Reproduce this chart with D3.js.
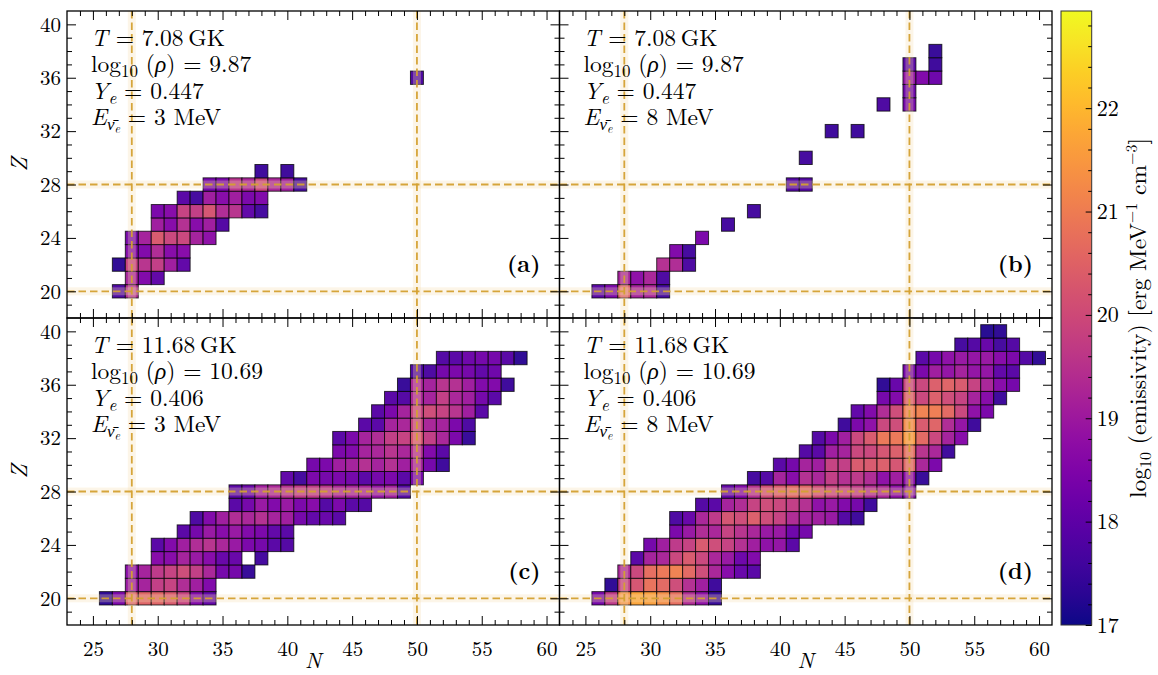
<!DOCTYPE html>
<html>
<head>
<meta charset="utf-8">
<script src="https://cdn.jsdelivr.net/npm/d3@7"></script>
<style>
  body { margin: 0; background: #fff; }
</style>
</head>
<body>
<svg id="chart" width="1158" height="675"></svg>
<script>
// each row: [Z, first N, log10 emissivity for N, N+1, ...]  (null = no cell)
const rowsA = [
  [20, 27, [17.7, 19.3]],
  [21, 28, [19.1, 18.5, 18.0]],
  [22, 27, [17.3, 19.8, 19.5, 19.7, 19.0, 18.0]],
  [23, 28, [18.5, 18.5, 19.3, 18.6, 18.6]],
  [24, 28, [18.3, 19.1, 20.3, 19.9, 19.9, 19.1, 18.7]],
  [25, 30, [19.0, 18.6, 19.4, 18.6, 19.0, 17.8]],
  [26, 30, [18.4, 18.6, 19.8, 19.7, 20.2, 19.3, 19.5, 18.0, 17.6]],
  [27, 32, [17.9, 17.6, 19.0, 18.6, 19.0, 18.4, 18.5]],
  [28, 34, [18.3, 18.4, 19.5, 19.2, 19.9, 19.2, 19.0, 17.6]],
  [29, 38, [17.5, null, 17.5]],
  [36, 50, [17.7]]
];
const rowsB = [
  [20, 26, [17.9, 18.4, 20.4, 19.1, 19.2, 17.6]],
  [21, 28, [19.1, 18.7, 19.2, 17.7]],
  [22, 31, [19.4, 19.3, 17.7]],
  [23, 32, [18.5, 17.6]],
  [24, 34, [18.4]],
  [25, 36, [17.6]],
  [26, 38, [17.6]],
  [28, 41, [17.8, 17.8]],
  [30, 42, [17.6]],
  [32, 44, [17.5, null, 17.5]],
  [34, 48, [17.7, null, 18.3]],
  [35, 50, [18.2]],
  [36, 50, [18.8, 18.5, 18.2]],
  [37, 50, [17.9, null, 17.5]],
  [38, 52, [17.4]]
];
const rowsC = [
  [20, 26, [17.3, 18.4, 20.4, 20.5, 20.5, 20.3, 19.8, 18.5, 18.0]],
  [21, 28, [18.9, 19.1, 19.7, 19.8, 19.3, 19.0, 18.5]],
  [22, 28, [18.6, 19.1, 19.6, 19.8, 20.0, 19.7, 19.2, 18.3, 18.3, 17.4]],
  [23, 30, [18.6, 18.6, 19.1, 18.9, 18.6, 18.1, 18.1, null, 17.6]],
  [24, 30, [17.9, 18.5, 19.0, 19.3, 19.5, 19.2, 18.9, 18.4, 18.3, 17.9, 17.8]],
  [25, 32, [17.9, 18.3, 18.9, 18.6, 18.9, 18.5, 18.4, 18.0, 17.9]],
  [26, 33, [17.7, 18.5, 19.0, 19.3, 19.2, 19.4, 19.1, 19.0, 18.3, 18.0, 18.1, 17.9]],
  [27, 36, [17.9, 18.3, 18.9, 18.5, 18.9, 18.4, 18.6, 17.8, 18.4, 17.9, 17.8]],
  [28, 36, [17.9, 18.1, 19.0, 19.2, 19.4, 19.6, 19.6, 19.5, 19.2, 19.1, 19.1, 18.8, 19.0, 17.8]],
  [29, 40, [18.0, 17.6, 18.4, 18.3, 18.4, 18.3, 17.9, 18.3, 18.4, 17.9, 18.3]],
  [30, 42, [18.3, 18.4, 19.0, 19.1, 19.4, 19.1, 19.4, 19.0, 19.1, 18.3, 17.5]],
  [31, 44, [18.4, 18.5, 19.1, 19.2, 19.5, 19.2, 19.3, 18.5, 17.9]],
  [32, 44, [17.9, 18.4, 19.1, 19.3, 19.7, 19.8, 20.2, 19.7, 19.2, 18.4, 17.4]],
  [33, 46, [17.9, 17.9, 19.1, 19.2, 19.8, 19.2, 19.1, 18.4, 17.7]],
  [34, 47, [17.9, 18.4, 19.1, 19.8, 20.0, 19.8, 19.5, 19.0, 17.9]],
  [35, 48, [17.9, 17.8, 19.2, 19.1, 19.7, 19.2, 19.0, 18.3, 17.9]],
  [36, 49, [17.4, 19.2, 19.1, 19.5, 19.4, 19.0, 18.5, 18.5, 17.5]],
  [37, 50, [17.7, 17.7, 18.3, 18.4, 18.3, 18.0, 18.2]],
  [38, 52, [17.8, 17.9, 18.2, 18.3, 18.3, 17.9, 17.3]]
];
const rowsD = [
  [20, 26, [18.3, 19.6, 21.4, 21.7, 21.6, 21.3, 20.7, 19.3, 18.7, 17.4]],
  [21, 27, [17.3, 19.7, 20.2, 20.8, 20.6, 20.0, 19.4, 19.0, 17.5]],
  [22, 28, [19.2, 19.9, 20.7, 20.9, 21.1, 20.6, 20.0, 19.2, 18.6, 18.1, 17.9]],
  [23, 29, [17.9, 19.1, 19.2, 19.9, 20.3, 19.9, 19.2, 18.9, 18.2, 18.5]],
  [24, 30, [18.3, 19.0, 19.6, 19.8, 20.3, 20.0, 19.8, 19.4, 19.0, 18.7, 18.8, 17.9]],
  [25, 32, [18.4, 18.9, 19.3, 19.2, 19.8, 19.5, 19.2, 18.9, 18.9, 18.2, 18.3]],
  [26, 32, [17.7, 18.1, 19.2, 19.6, 20.2, 20.0, 20.4, 20.0, 19.8, 19.3, 19.1, 19.0, 18.9, 17.8, 17.5]],
  [27, 34, [17.8, 17.9, 19.1, 19.3, 19.8, 20.0, 19.9, 19.7, 19.4, 18.7, 18.9, 18.5, 18.3, 17.5]],
  [28, 36, [18.0, 18.5, 19.4, 20.0, 20.3, 20.5, 20.5, 20.0, 19.8, 19.7, 19.6, 19.3, 19.2, 18.7, 18.5]],
  [29, 38, [17.6, 17.8, 19.1, 18.6, 19.4, 19.2, 19.7, 19.4, 19.6, 19.3, 18.7, 19.0, 18.6, 17.4]],
  [30, 40, [17.9, 18.3, 19.1, 19.0, 19.8, 19.7, 20.3, 20.3, 20.4, 20.2, 20.5, 19.2, 18.4]],
  [31, 42, [17.8, 17.9, 19.0, 19.1, 19.9, 19.9, 20.2, 20.4, 20.6, 19.5, 19.2, 17.5]],
  [32, 43, [17.8, 18.4, 19.0, 19.9, 20.3, 20.9, 20.9, 21.5, 20.6, 19.9, 19.1, 18.6]],
  [33, 45, [17.5, 18.4, 18.7, 19.9, 20.0, 21.2, 20.3, 20.5, 19.3, 18.8, 17.5]],
  [34, 46, [18.0, 18.5, 19.3, 20.0, 21.0, 21.1, 21.0, 20.6, 19.9, 18.7, 18.4]],
  [35, 48, [18.3, 18.5, 20.3, 19.9, 20.4, 20.0, 19.8, 19.1, 18.6, 17.5]],
  [36, 48, [17.3, 18.1, 19.8, 19.9, 20.4, 20.5, 20.3, 19.8, 19.2, 18.6, 18.3]],
  [37, 50, [18.3, 18.4, 19.0, 18.8, 19.1, 18.8, 18.8, 18.0, 17.9]],
  [38, 51, [17.9, 18.3, 18.7, 18.9, 18.8, 18.9, 18.6, 18.4, 17.8, 17.3]],
  [39, 54, [17.6, 17.8, 18.1, 17.6, 17.8]],
  [40, 56, [17.2, 17.3]]
];

const temps = ["7.08", "7.08", "11.68", "11.68"];
const rhos = ["9.87", "9.87", "10.69", "10.69"];
const yes = ["0.447", "0.447", "0.406", "0.406"];
const energies = ["3", "8", "3", "8"];
const tags = ["(a)", "(b)", "(c)", "(d)"];
const magicN = [28, 50];
const magicZ = [20, 28];
const colorTicks = [17, 18, 19, 20, 21, 22];
const cmin = 17, cmax = 22.94;

const serif = "'Latin Modern Roman', 'Liberation Serif', 'Times New Roman'";
const svg = d3.select("#chart").style("font-family", serif);
const padL = 67, padT = 11, W = 492.5, H = 307;
const color = d3.scaleSequential(d3.interpolatePlasma).domain([cmin, cmax]);
const gold = "#d4a030";

function cells(rows) {
  return rows.flatMap(([z, n0, vals]) =>
    vals.map((v, i) => ({N: n0 + i, Z: z, v})).filter(d => d.v != null));
}

function axis(g, gen, tf) {
  g.append("g").attr("transform", tf).call(gen)
    .attr("font-family", null).attr("font-size", 21)
    .style("font-family", serif)
    .call(s => s.select(".domain").remove())
    .call(s => s.selectAll("line").attr("stroke", "#000").attr("stroke-width", 1))
    .call(s => s.selectAll("text").attr("fill", "#000"));
}

[rowsA, rowsB, rowsC, rowsD].forEach((rows, k) => {
  const col = k % 2, row = Math.floor(k / 2);
  const x = d3.scaleLinear().domain([23, 61]).range([0, W]);
  const y = d3.scaleLinear().domain([18, 41]).range([H, 0]);
  const g = svg.append("g").attr("transform", `translate(${padL + col * W},${padT + row * H})`);

  g.append("clipPath").attr("id", "clip" + k)
    .append("rect").attr("width", W).attr("height", H);
  const plot = g.append("g").attr("clip-path", `url(#clip${k})`);

  plot.append("g").selectAll("rect")
    .data(cells(rows))
    .join("rect")
      .attr("x", d => x(d.N - 0.5))
      .attr("y", d => y(d.Z + 0.5))
      .attr("width", x(1) - x(0))
      .attr("height", y(0) - y(1))
      .attr("fill", d => color(d.v))
      .attr("fill-opacity", 0.97)
      .attr("stroke", "#000")
      .attr("stroke-opacity", 0.75)
      .attr("stroke-width", 1);

  // magic number guides: pale band plus dashed line
  const bands = plot.append("g").attr("fill", "#f5deb3").attr("fill-opacity", 0.3);
  bands.selectAll(".bn").data(magicN).join("rect")
    .attr("x", d => x(d) - 4).attr("y", 0).attr("width", 8).attr("height", H);
  bands.selectAll(".bz").data(magicZ).join("rect")
    .attr("x", 0).attr("y", d => y(d) - 4).attr("width", W).attr("height", 8);
  const dash = plot.append("g").attr("stroke", gold).attr("stroke-width", 1.8)
    .attr("stroke-dasharray", "7.5,4").attr("stroke-opacity", 0.95);
  dash.selectAll(".ln").data(magicN).join("line")
    .attr("x1", d => x(d)).attr("x2", d => x(d)).attr("y1", 0).attr("y2", H);
  dash.selectAll(".lz").data(magicZ).join("line")
    .attr("x1", 0).attr("x2", W).attr("y1", d => y(d)).attr("y2", d => y(d));

  // ticks on all sides, pointing inward
  const majX = d3.range(25, 61, 5), minX = d3.range(24, 61).filter(v => v % 5);
  const majY = d3.range(20, 41, 4), minY = d3.range(19, 41).filter(v => (v - 20) % 4);
  const none = () => "";
  axis(g, d3.axisBottom(x).tickValues(majX).tickSize(-9).tickPadding(16)
    .tickFormat(row === 1 ? d3.format("d") : none), `translate(0,${H})`);
  axis(g, d3.axisBottom(x).tickValues(minX).tickSize(-5).tickFormat(none), `translate(0,${H})`);
  axis(g, d3.axisTop(x).tickValues(majX).tickSize(-9).tickFormat(none), "translate(0,0)");
  axis(g, d3.axisTop(x).tickValues(minX).tickSize(-5).tickFormat(none), "translate(0,0)");
  axis(g, d3.axisLeft(y).tickValues(majY).tickSize(-9).tickPadding(6)
    .tickFormat(col === 0 ? d3.format("d") : none), "translate(0,0)");
  axis(g, d3.axisLeft(y).tickValues(minY).tickSize(-5).tickFormat(none), "translate(0,0)");
  axis(g, d3.axisRight(y).tickValues(majY).tickSize(-9).tickFormat(none), `translate(${W},0)`);
  axis(g, d3.axisRight(y).tickValues(minY).tickSize(-5).tickFormat(none), `translate(${W},0)`);

  g.append("rect").attr("width", W).attr("height", H)
    .attr("fill", "none").attr("stroke", "#000").attr("stroke-width", 1.3);

  // condition annotation
  const fs = 23.5, sub = 17, lh = 26.4, tx = 24, ty = 35;
  const t = g.append("g").attr("font-size", fs).attr("fill", "#000");
  const l1 = t.append("text").attr("x", tx).attr("y", ty);
  l1.append("tspan").attr("font-style", "italic").text("T");
  l1.append("tspan").text(` = ${temps[k]}\u2009GK`);
  const l2 = t.append("text").attr("x", tx).attr("y", ty + lh);
  l2.append("tspan").text("log");
  l2.append("tspan").attr("font-size", sub).attr("dy", 5).text("10");
  l2.append("tspan").attr("dy", -5).text(" (");
  l2.append("tspan").attr("font-style", "italic").text("ρ");
  l2.append("tspan").text(`) = ${rhos[k]}`);
  const l3 = t.append("text").attr("x", tx).attr("y", ty + 2 * lh);
  l3.append("tspan").attr("font-style", "italic").text("Y");
  l3.append("tspan").attr("font-style", "italic").attr("font-size", sub).attr("dy", 5).text("e");
  l3.append("tspan").attr("dy", -5).text(` = ${yes[k]}`);
  const l4 = t.append("text").attr("x", tx).attr("y", ty + 3 * lh);
  l4.append("tspan").attr("font-style", "italic").text("E");
  l4.append("tspan").attr("font-style", "italic").attr("font-size", sub).attr("dy", 5).text("ν\u0304");
  l4.append("tspan").attr("font-style", "italic").attr("font-size", 12).attr("dy", 3).text("e");
  l4.append("tspan").attr("dy", -8).text(` = ${energies[k]} MeV`);

  g.append("text").attr("x", W - 19).attr("y", H - 46)
    .attr("text-anchor", "end").attr("font-weight", "bold").attr("font-size", 23)
    .text(tags[k]);

  if (row === 1) {
    g.append("text").attr("x", W / 2).attr("y", H + 43)
      .attr("text-anchor", "middle").attr("font-size", 22).attr("font-style", "italic").text("N");
  }
  if (col === 0) {
    g.append("text").attr("transform", `translate(-40,${H / 2}) rotate(-90)`)
      .attr("text-anchor", "middle").attr("font-size", 23).attr("font-style", "italic").text("Z");
  }
});

// colour bar
const cbX = 1061, cbW = 30.7, cbTop = 11, cbBot = 625;
const cy = d3.scaleLinear().domain([cmin, cmax]).range([cbBot, cbTop]);
const grad = svg.append("defs").append("linearGradient").attr("id", "cbar")
  .attr("x1", 0).attr("y1", 1).attr("x2", 0).attr("y2", 0);
grad.selectAll("stop").data(d3.range(0, 1.001, 0.05)).join("stop")
  .attr("offset", d => d).attr("stop-color", d => d3.interpolatePlasma(d));
svg.append("rect").attr("x", cbX).attr("y", cbTop).attr("width", cbW).attr("height", cbBot - cbTop)
  .attr("fill", "url(#cbar)").attr("stroke", "#333").attr("stroke-width", 1);
const cg = svg.append("g");
axis(cg, d3.axisRight(cy).tickValues(colorTicks).tickSize(-6).tickPadding(5).tickFormat(d3.format("d")),
  `translate(${cbX + cbW},0)`);
axis(cg, d3.axisRight(cy).tickValues(d3.range(17.2, 22.95, 0.2).filter(v => Math.abs(v - Math.round(v)) > 0.05))
  .tickSize(-3.5).tickFormat(() => ""), `translate(${cbX + cbW},0)`);
cg.selectAll("text").attr("font-size", 22);

const cl = svg.append("text").attr("transform", `translate(1146,${(cbTop + cbBot) / 2}) rotate(-90)`)
  .attr("text-anchor", "middle").attr("font-size", 23.5);
cl.append("tspan").text("log");
cl.append("tspan").attr("font-size", 16).attr("dy", 5).text("10");
cl.append("tspan").attr("dy", -5).text(" (emissivity) [erg MeV");
cl.append("tspan").attr("font-size", 16).attr("dy", -9).text("−1");
cl.append("tspan").attr("dy", 9).text(" cm");
cl.append("tspan").attr("font-size", 16).attr("dy", -9).text("−3");
cl.append("tspan").attr("dy", 9).text("]");
</script>
</body>
</html>
